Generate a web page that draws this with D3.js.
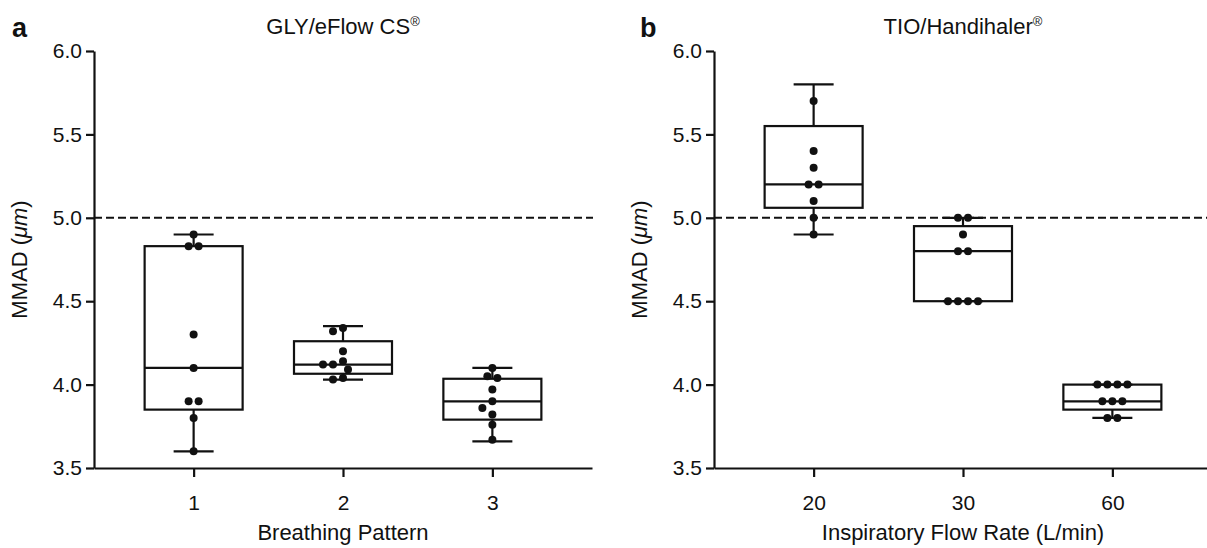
<!DOCTYPE html>
<html><head><meta charset="utf-8">
<script src="https://cdn.jsdelivr.net/npm/d3@7/dist/d3.min.js"></script>
<style>
html,body{margin:0;padding:0;background:#fff;}
svg{display:block;font-family:"Liberation Sans",Arial,sans-serif;}
</style></head>
<body>
<svg id="chart" width="1207" height="548"></svg>
<script>
// ---------- DATA ----------
const yTicks = [3.5, 4.0, 4.5, 5.0, 5.5, 6.0];
const refLine = 5.0;

// Panel a: GLY/eFlow CS
const aTitle = "GLY/eFlow CS";
const aXLabel = "Breathing Pattern";
const aCategories = ["1", "2", "3"];
const aMin    = [3.60, 4.03, 3.66];
const aQ1     = [3.85, 4.065, 3.79];
const aMedian = [4.10, 4.12, 3.90];
const aQ3     = [4.83, 4.26, 4.035];
const aMax    = [4.90, 4.35, 4.10];
const aPoints = [
  [4.90, 4.83, 4.83, 4.30, 4.10, 3.90, 3.90, 3.80, 3.60],
  [4.34, 4.32, 4.20, 4.14, 4.12, 4.12, 4.09, 4.04, 4.03],
  [4.10, 4.05, 4.04, 3.97, 3.90, 3.86, 3.82, 3.76, 3.67]
];

// Panel b: TIO/Handihaler
const bTitle = "TIO/Handihaler";
const bXLabel = "Inspiratory Flow Rate (L/min)";
const bCategories = ["20", "30", "60"];
const bMin    = [4.90, 4.50, 3.80];
const bQ1     = [5.06, 4.50, 3.85];
const bMedian = [5.20, 4.80, 3.90];
const bQ3     = [5.55, 4.95, 4.00];
const bMax    = [5.80, 5.00, 4.00];
const bPoints = [
  [5.70, 5.40, 5.30, 5.20, 5.20, 5.10, 5.00, 4.90],
  [5.00, 5.00, 4.90, 4.80, 4.80, 4.50, 4.50, 4.50, 4.50],
  [4.00, 4.00, 4.00, 4.00, 3.90, 3.90, 3.90, 3.80, 3.80]
];

// ---------- DRAW ----------
const svg = d3.select("#chart");
const FONT = 21;
const boxW = 98, capW = 40, R = 4, DOT_D = 10;

const y = d3.scaleLinear().domain([3.5, 6.0]).range([468, 51]);

function swarm(values, cx) {
  const placed = [];
  const groups = d3.groups(values.slice().sort((p, q) => q - p), v => v);
  groups.forEach(([v, arr]) => {
    const py = y(v);
    const n = arr.length;
    const shifts = [0];
    for (let k = 1; k <= 8; k++) { shifts.push(-k * DOT_D / 2, k * DOT_D / 2); }
    for (const s of shifts) {
      const xs = arr.map((_, i) => cx + (i - (n - 1) / 2) * DOT_D + s);
      const ok = xs.every(px => placed.every(p => Math.hypot(p.x - px, p.y - py) >= DOT_D - 0.5));
      if (ok) { xs.forEach(px => placed.push({x: px, y: py})); break; }
    }
  });
  return placed;
}

function panel(opt) {
  const g = svg.append("g");
  const x = d3.scalePoint().domain(opt.categories).range(opt.xRange).padding(0.667);

  g.append("line")
    .attr("x1", opt.xRange[0]).attr("x2", opt.dashEnd)
    .attr("y1", y(refLine)).attr("y2", y(refLine))
    .attr("stroke", "#111").attr("stroke-width", 2)
    .attr("stroke-dasharray", "8,4");

  opt.categories.forEach((c, i) => {
    const cx = x(c);
    const bg = g.append("g").attr("stroke", "#111").attr("stroke-width", 2.2).attr("fill", "none");
    bg.append("line").attr("x1", cx).attr("x2", cx).attr("y1", y(opt.max[i])).attr("y2", y(opt.q3[i]));
    bg.append("line").attr("x1", cx).attr("x2", cx).attr("y1", y(opt.q1[i])).attr("y2", y(opt.min[i]));
    bg.append("line").attr("x1", cx - capW / 2).attr("x2", cx + capW / 2).attr("y1", y(opt.max[i])).attr("y2", y(opt.max[i]));
    bg.append("line").attr("x1", cx - capW / 2).attr("x2", cx + capW / 2).attr("y1", y(opt.min[i])).attr("y2", y(opt.min[i]));
    bg.append("rect").attr("x", cx - boxW / 2).attr("width", boxW)
      .attr("y", y(opt.q3[i])).attr("height", y(opt.q1[i]) - y(opt.q3[i]));
    bg.append("line").attr("x1", cx - boxW / 2).attr("x2", cx + boxW / 2).attr("y1", y(opt.median[i])).attr("y2", y(opt.median[i]));

    const pts = swarm(opt.points[i], cx);
    g.selectAll(null).data(pts).enter().append("circle")
      .attr("cx", d => d.x).attr("cy", d => d.y).attr("r", R).attr("fill", "#111");
  });

  const yAxis = d3.axisLeft(y).tickValues(yTicks).tickFormat(d3.format(".1f")).tickSize(8).tickPadding(4).tickSizeOuter(0);
  const ya = g.append("g").attr("transform", `translate(${opt.xRange[0]},0)`).call(yAxis);
  const xAxis = d3.axisBottom(x).tickSize(9).tickPadding(18).tickSizeOuter(0);
  const xa = g.append("g").attr("transform", `translate(0,${y(3.5)})`).call(xAxis);
  [ya, xa].forEach(a => {
    a.selectAll("path,line").attr("stroke", "#111").attr("stroke-width", 2.2);
    a.selectAll("text").attr("font-size", FONT).attr("fill", "#111").attr("font-family", "Liberation Sans, Arial, sans-serif");
  });

  const mid = (opt.xRange[0] + opt.xRange[1]) / 2;
  g.append("text").attr("x", mid).attr("y", 540).attr("text-anchor", "middle")
    .attr("font-size", 22).attr("fill", "#111").text(opt.xLabel);
  const yt = g.append("text").attr("transform", `translate(${opt.xRange[0] - 67},${(y(3.5) + y(6)) / 2}) rotate(-90)`)
    .attr("text-anchor", "middle").attr("font-size", 22).attr("fill", "#111");
  yt.append("tspan").text("MMAD (");
  yt.append("tspan").attr("font-style", "italic").text("\u03BCm");
  yt.append("tspan").text(")");

  const t = g.append("text").attr("x", mid).attr("y", 34).attr("text-anchor", "middle")
    .attr("font-size", 22).attr("fill", "#111");
  t.append("tspan").text(opt.title);
  t.append("tspan").attr("font-size", 13).attr("dy", -8).text("\u00AE");

  g.append("text").attr("x", opt.letterX).attr("y", 37).attr("font-size", 27).attr("font-weight", "bold")
    .attr("fill", "#111").text(opt.letter);
}

panel({categories: aCategories, min: aMin, q1: aQ1, median: aMedian, q3: aQ3, max: aMax, points: aPoints,
  xRange: [94, 592], dashEnd: 593, title: aTitle, xLabel: aXLabel, letter: "a", letterX: 12});
panel({categories: bCategories, min: bMin, q1: bQ1, median: bMedian, q3: bQ3, max: bMax, points: bPoints,
  xRange: [714, 1212], dashEnd: 1207, title: bTitle, xLabel: bXLabel, letter: "b", letterX: 640});
</script>
</body></html>
